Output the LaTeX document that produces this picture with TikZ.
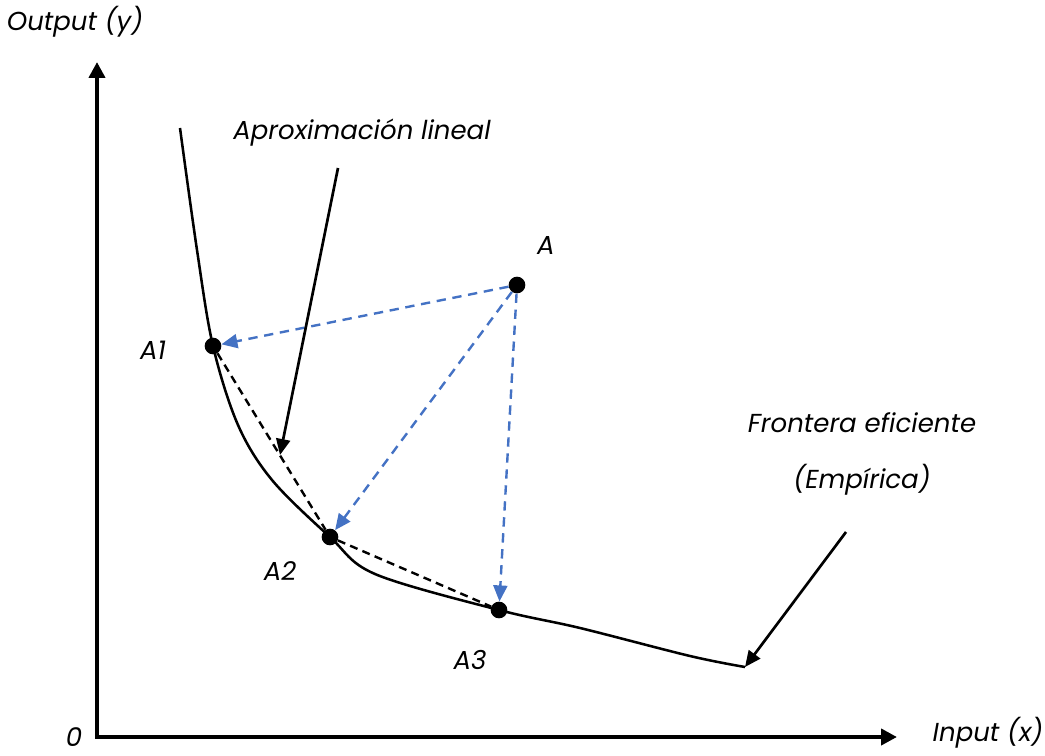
\documentclass[tikz,border=0pt]{standalone}
\usepackage{fontspec}
\setmainfont{Poppins}
\usepackage{xcolor}
\usetikzlibrary{arrows.meta, positioning, calc}
\definecolor{dashblue}{RGB}{68,114,196}
\tikzset{
  dot/.style={circle, fill=black, inner sep=0pt, minimum size=12.5pt},
  lbl/.style={font=\fontsize{19.5}{22}\selectfont\itshape},
  tip/.style={-{Triangle[length=12pt,width=10.5pt]}},
}

\begin{document}
\begin{tikzpicture}[x=0.75pt, y=-0.75pt]
    \useasboundingbox (0,0) rectangle (1045,756);

    % axes
    \coordinate (o) at (97,737);
    \coordinate (ytop) at (97,62);
    \coordinate (xend) at (897,737);
    \draw[line width=3pt, -{Triangle[length=12pt,width=12pt]}] (o) -- (ytop);
    \draw[line width=3pt, -{Triangle[length=12pt,width=12pt]}] ($(o)+(-2,0)$) -- (xend);
    \node[lbl, inner sep=0pt] (zero) at (74,737) {0};
    \node[lbl] (ylab) at (75,22) {Output (y)};
    \node[lbl] (xlab) at (988,733) {Input (x)};

    % points
    \node[dot] (a) at (517,285) {};
    \node[dot] (a1) at (213,346) {};
    \node[dot] (a2) at (330,537) {};
    \node[dot] (a3) at (499,610) {};
    \node[lbl] (la) at (546,245) {A};
    \node[lbl] (la1) at (153,350) {A1};
    \node[lbl] (la2) at (280,571) {A2};
    \node[lbl] (la3) at (470,660) {A3};

    % frontier
    \coordinate (fstart) at (180,128);
    \coordinate (fend) at (745,667);
    \draw[line width=1.9pt, line join=round] plot[smooth, tension=0.55] coordinates
        {(fstart) (197,250) (a1.center) (238,425) (272,480) (a2.center) (375,574) (a3.center) (580,628) (690,656) (fend)};

    % linear approximation
    \draw[line width=1.8pt, dash pattern=on 6pt off 4pt] (a1) -- (a2);
    \draw[line width=1.8pt, dash pattern=on 6pt off 4pt] (a2) -- (a3);

    % projections
    \draw[dashblue, line width=1.8pt, dash pattern=on 7pt off 5pt, tip] (a) -- (a1);
    \draw[dashblue, line width=1.8pt, dash pattern=on 7pt off 5pt, tip] (a) -- (a2);
    \draw[dashblue, line width=1.8pt, dash pattern=on 7pt off 5pt, tip] (a) -- (a3);

    % callouts
    \node[lbl] (aprox) at (362,133) {Aproximación lineal};
    \coordinate (aproxtail) at (338,168);
    \coordinate (aproxhead) at (280,455);
    \draw[line width=2pt, tip] (aproxtail) -- (aproxhead);
    \node[lbl] (front) at (862,423) {Frontera eficiente};
    \node[lbl] (emp) at (862,480) {(Empírica)};
    \coordinate (fronttail) at (846,532);
    \draw[line width=2pt, tip] (fronttail) -- (fend);
\end{tikzpicture}
\end{document}
